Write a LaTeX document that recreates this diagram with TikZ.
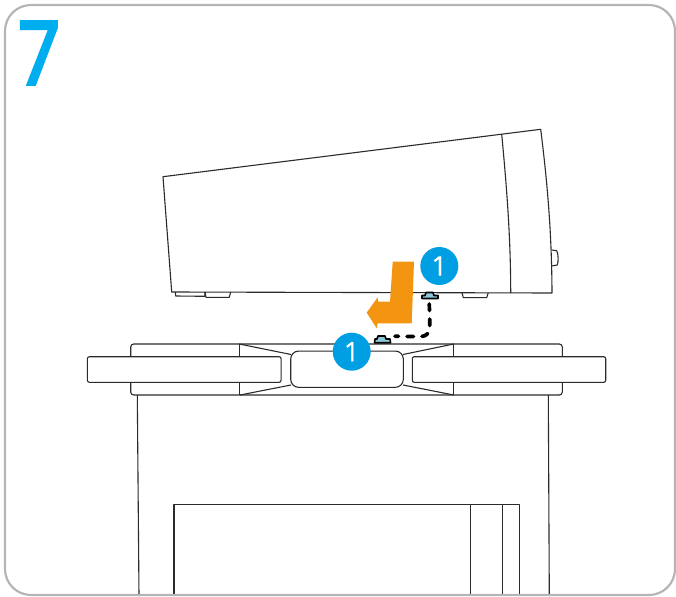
\documentclass[tikz,border=0pt]{standalone}
\usepackage{fontspec}
\setmainfont{Open Sans}
\newfontfamily\stepfont[FakeBold=4]{Open Sans}
\newfontfamily\badgefont[FakeBold=0.6]{Open Sans}
\definecolor{framegray}{HTML}{B5B5B5}
\definecolor{stepblue}{HTML}{00AEEF}
\definecolor{badgeblue}{HTML}{009FE3}
\definecolor{arrorange}{HTML}{F39511}
\definecolor{clipblue}{HTML}{8CC8DC}
\definecolor{inkline}{HTML}{2B2B2B}
\tikzset{
  ink/.style={draw=inkline,line width=1.1pt,line join=round},
  badge/.style={circle,fill=badgeblue,minimum size=38pt,inner sep=0pt,text=white,font=\badgefont\fontsize{27}{27}\selectfont},
  clipshape/.style={draw=black,fill=clipblue,line width=1.6pt,line join=round},
  linkdash/.style={draw=black,line width=3.7pt,line cap=round,dash pattern=on 6.5pt off 8.5pt},
}
\begin{document}
\begin{tikzpicture}[x=1pt,y=-1pt]
\useasboundingbox (0,0) rectangle (676,596);
% device
\draw[ink] (163,176.7) -- (540.7,129.3) .. controls (547,180) and (551.7,230) .. (552,293) -- (171.7,292) -- cycle;
\draw[ink] (501.7,134.3) .. controls (507,190) and (510.7,240) .. (510.7,293);
\draw[ink] (551.7,250) -- (556.7,250.7) .. controls (558.5,254) and (558.5,262) .. (557.3,265) -- (551.7,266);
\draw[ink] (175.3,292) -- (175.7,296) -- (205,296.3) -- (205,292);
\draw[ink] (205,292) -- (206,297.3) -- (229.3,297.3) -- (230.7,292);
\draw[ink] (462,293) -- (463.3,297.6) -- (486.7,297.6) -- (488.2,293);
% table
\draw[ink] (137.3,395) -- (139,596);
\draw[ink] (548.3,395) -- (549.3,596);
\draw[ink] (174,596) -- (174,504.4) -- (519.3,504.4) -- (519.3,596);
\draw[ink] (470.7,504) -- (470.7,596);
\draw[ink] (502.3,504) -- (502.3,596);
% tray
\draw[ink,rounded corners=3pt] (130.7,395) rectangle (562.3,344);
\draw[ink] (239.3,344) -- (239.3,395);
\draw[ink] (453.7,344) -- (453.7,395);
\draw[ink] (239.3,344) -- (291,354.5);
\draw[ink] (240,395) -- (291,385);
\draw[ink] (453.7,344) -- (403,354.5);
\draw[ink] (453.7,395) -- (403,385);
\node[ink,fill=white,rounded corners=8pt,minimum width=112.6pt,minimum height=36.3pt,inner sep=0pt] (hub) at (347,369.2) {};
\node[ink,fill=white,rounded corners=2pt,minimum width=193.7pt,minimum height=25.6pt,inner sep=0pt] (leftarm) at (184.2,369.5) {};
\node[ink,fill=white,rounded corners=2pt,minimum width=193.4pt,minimum height=25.6pt,inner sep=0pt] (rightarm) at (509,369.5) {};
% orange arrow
\fill[arrorange,line join=round] (392.7,261.7) -- (414,261.7) -- (411.7,323.3) -- (377.7,323.3) -- (376.7,328.3) -- (366.7,312.7) -- (377.7,297.3) -- (378.3,301.7) -- (390,301.7) -- cycle;
% clips
\draw[clipshape] (426,292.5) -- (433,292.5) -- (434,295.5) -- (438,295.5) -- (438,298.5) -- (422,298.5) -- (422,295.5) -- (425,295.5) -- cycle;
\draw[clipshape] (378,336) -- (385,336) -- (386,339) -- (390,339) -- (390.5,342.7) -- (374.5,342.7) -- (375,339) -- (377,339) -- cycle;
\coordinate (clipupper) at (429.3,304);
\coordinate (cliplower) at (395,336.3);
\draw[linkdash] (clipupper) -- (429.8,326) .. controls (429.8,332) and (428,336.3) .. (420,336.5) -- (cliplower);
% badges
\node[badge] (badgeupper) at (439.3,266) {1};
\node[badge] (badgelower) at (351.7,351.7) {1};
% step number
\node[text=stepblue,font=\stepfont\fontsize{87}{87}\selectfont,inner sep=0pt,anchor=center,xscale=0.85] (stepnum) at (39,53) {7};
% frame
\draw[framegray,line width=2.2pt,rounded corners=26pt] (5,5) rectangle (675,595);
\end{tikzpicture}
\end{document}
